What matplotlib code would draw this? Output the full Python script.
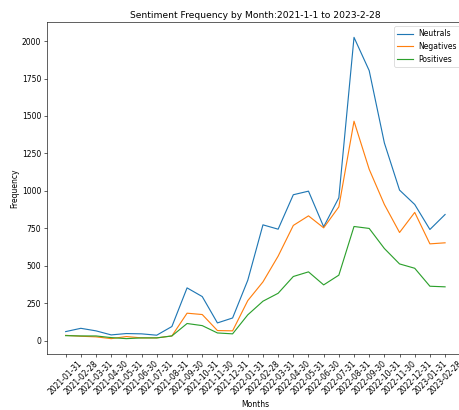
import matplotlib
matplotlib.use("Agg")
import matplotlib.pyplot as plt

# monthly counts per sentiment class
months = ["2021-01-31", "2021-02-28", "2021-03-31", "2021-04-30", "2021-05-31",
          "2021-06-30", "2021-07-31", "2021-08-31", "2021-09-30", "2021-10-31",
          "2021-11-30", "2021-12-31", "2022-01-31", "2022-02-28", "2022-03-31",
          "2022-04-30", "2022-05-31", "2022-06-30", "2022-07-31", "2022-08-31",
          "2022-09-30", "2022-10-31", "2022-11-30", "2022-12-31", "2023-01-31",
          "2023-02-28"]
neutrals = [60, 82, 65, 38, 47, 45, 36, 94, 352, 294, 118, 151, 403, 773, 744,
            974, 998, 760, 954, 2025, 1803, 1320, 1005, 909, 742, 842]
negatives = [35, 29, 25, 13, 27, 18, 18, 31, 183, 174, 67, 65, 267, 392, 564,
             769, 833, 753, 893, 1465, 1144, 909, 722, 856, 646, 653]
positives = [33, 31, 31, 20, 13, 18, 18, 31, 114, 100, 51, 45, 172, 263, 316,
             428, 459, 372, 437, 762, 749, 615, 512, 483, 363, 359]

DPI = 55
fig = plt.figure(figsize=(459 / DPI, 410 / DPI), dpi=DPI)
ax = fig.add_axes([0.1017, 0.1373, 0.9093, 0.8083])

x = range(len(months))
ax.plot(x, neutrals, label="Neutrals")
ax.plot(x, negatives, label="Negatives")
ax.plot(x, positives, label="Positives")

ax.set_xticks(list(x))
ax.set_xticklabels(months, rotation=45, ha="center")
ax.set_title("Sentiment Frequency by Month:2021-1-1 to 2023-2-28")
ax.set_xlabel("Months")
ax.set_ylabel("Frequency")
ax.legend(loc="upper right")

fig.savefig("out.png", dpi=DPI)
